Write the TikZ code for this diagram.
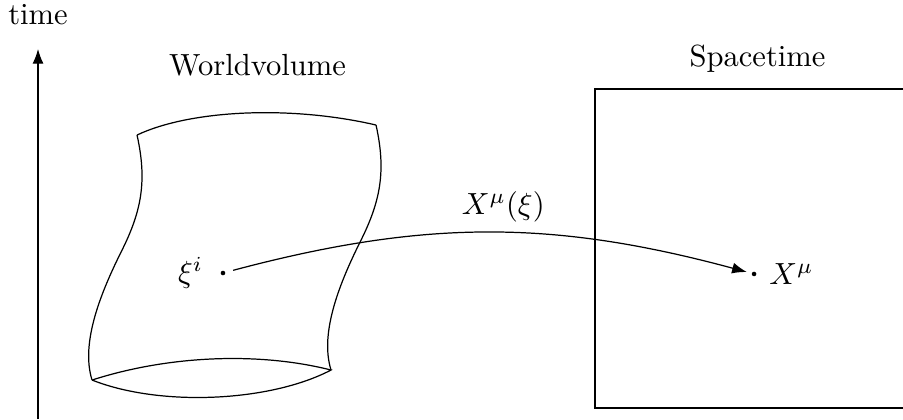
\documentclass[tikz,border=0pt]{standalone}
\usepackage{amsmath,amssymb}
\usepackage{tikz}
\usetikzlibrary{positioning,arrows.meta}

\begin{document}
\begin{tikzpicture}[>=Latex,spot/.style={circle,fill,inner sep=0pt,minimum size=1.5pt}]
  \useasboundingbox (0,0) rectangle (10.379,4.816);
  % time axis
  \coordinate (t0) at (0.437,0);
  \coordinate (t1) at (0.437,4.253);
  \draw[->] (t0) -- (t1);
  \node[anchor=base] (time) at (0.437,4.529) {time};
  % worldvolume
  \coordinate (tl) at (1.575,3.264);
  \coordinate (tr) at (4.322,3.379);
  \coordinate (bl) at (1.058,0.448);
  \coordinate (br) at (3.805,0.563);
  \draw (tl) .. controls (2.184,3.552) and (3.333,3.609) .. (tr);
  \foreach \c in {tl,tr}
    \draw[shift={(\c)}] (0,0) .. controls (0.115,-0.517) and (0.057,-0.862) .. (-0.172,-1.322)
      .. controls (-0.402,-1.782) and (-0.655,-2.379) .. (-0.517,-2.816);
  \draw (bl) .. controls (1.954,0.736) and (2.989,0.770) .. (br)
             .. controls (3.103,0.195) and (1.839,0.138) .. (bl);
  \node[anchor=base] (wv) at (2.960,3.946) {Worldvolume};
  % spacetime
  \draw (6.839,0.126) rectangle (10.6,3.793);
  \node[anchor=base] (st) at (8.707,4.049) {Spacetime};
  % the map
  \node[spot] (xi) at (2.563,1.678) {};
  \node[spot] (x) at (8.667,1.667) {};
  \node[left=2pt of xi] (xil) {$\xi^i$};
  \node[right=0.5pt of x] (xl) {$X^\mu$};
  \draw[->,shorten <=2.5pt,shorten >=1.5pt] (xi) to[bend left=15] node[above,pos=0.53] {$X^\mu(\xi)$} (x);
\end{tikzpicture}
\end{document}
